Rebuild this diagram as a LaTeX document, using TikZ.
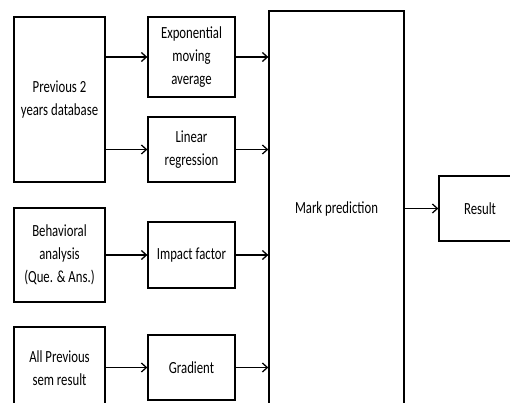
\documentclass[tikz,border=0pt]{standalone}
\usepackage{fontspec}
\setmainfont{Carlito}[FakeStretch=0.75]
\usetikzlibrary{arrows.meta,positioning}

\begin{document}
\begin{tikzpicture}[
    x=1pt, y=-1pt,
    block/.style={draw, rectangle, line width=1.3pt, inner sep=2pt, align=center,
        font=\fontsize{17}{23}\selectfont},
    arrow/.style={-{Straight Barb[length=5pt,width=9pt]}, line width=1.3pt}
]
\useasboundingbox (0,0) rectangle (510,403);
\clip (0,0) rectangle (510,403);

% inputs
\node[block, minimum width=91pt, minimum height=165pt] (db) at (59.5,99.5) {Previous 2\\years database};
\node[block, minimum width=91pt, minimum height=94pt] (behav) at (59.5,255) {Behavioral\\analysis\\(Que. \& Ans.)};
\node[block, minimum width=91pt, minimum height=82pt] (prevsem) at (59.5,368) {All Previous\\sem result};

% methods
\node[block, minimum width=87pt, minimum height=80pt] (ema) at (191.5,57) {Exponential\\moving\\average};
\node[block, minimum width=87pt, minimum height=65pt] (linreg) at (191.5,149.5) {Linear\\regression};
\node[block, minimum width=87pt, minimum height=66pt] (impact) at (191.5,255) {Impact factor};
\node[block, minimum width=87pt, minimum height=65pt] (grad) at (191.5,367.5) {Gradient};

% output (result box runs off the page)
\node[block, minimum width=135pt, minimum height=396pt] (mark) at (336.5,209) {Mark prediction};
\node[block, minimum width=100pt, minimum height=65pt] (result) at (489,208.5) {Result\hspace*{18pt}};

\draw[arrow] (db.east |- ema) -- (ema);
\draw[arrow] (db.east |- linreg) -- (linreg);
\draw[arrow] (behav) -- (impact);
\draw[arrow] (prevsem.east |- grad) -- (grad);

\draw[arrow] (ema) -- (ema -| mark.west);
\draw[arrow] (linreg) -- (linreg -| mark.west);
\draw[arrow] (impact) -- (impact -| mark.west);
\draw[arrow] (grad) -- (grad -| mark.west);
\draw[arrow] (mark.east |- result) -- (result);
\end{tikzpicture}
\end{document}
